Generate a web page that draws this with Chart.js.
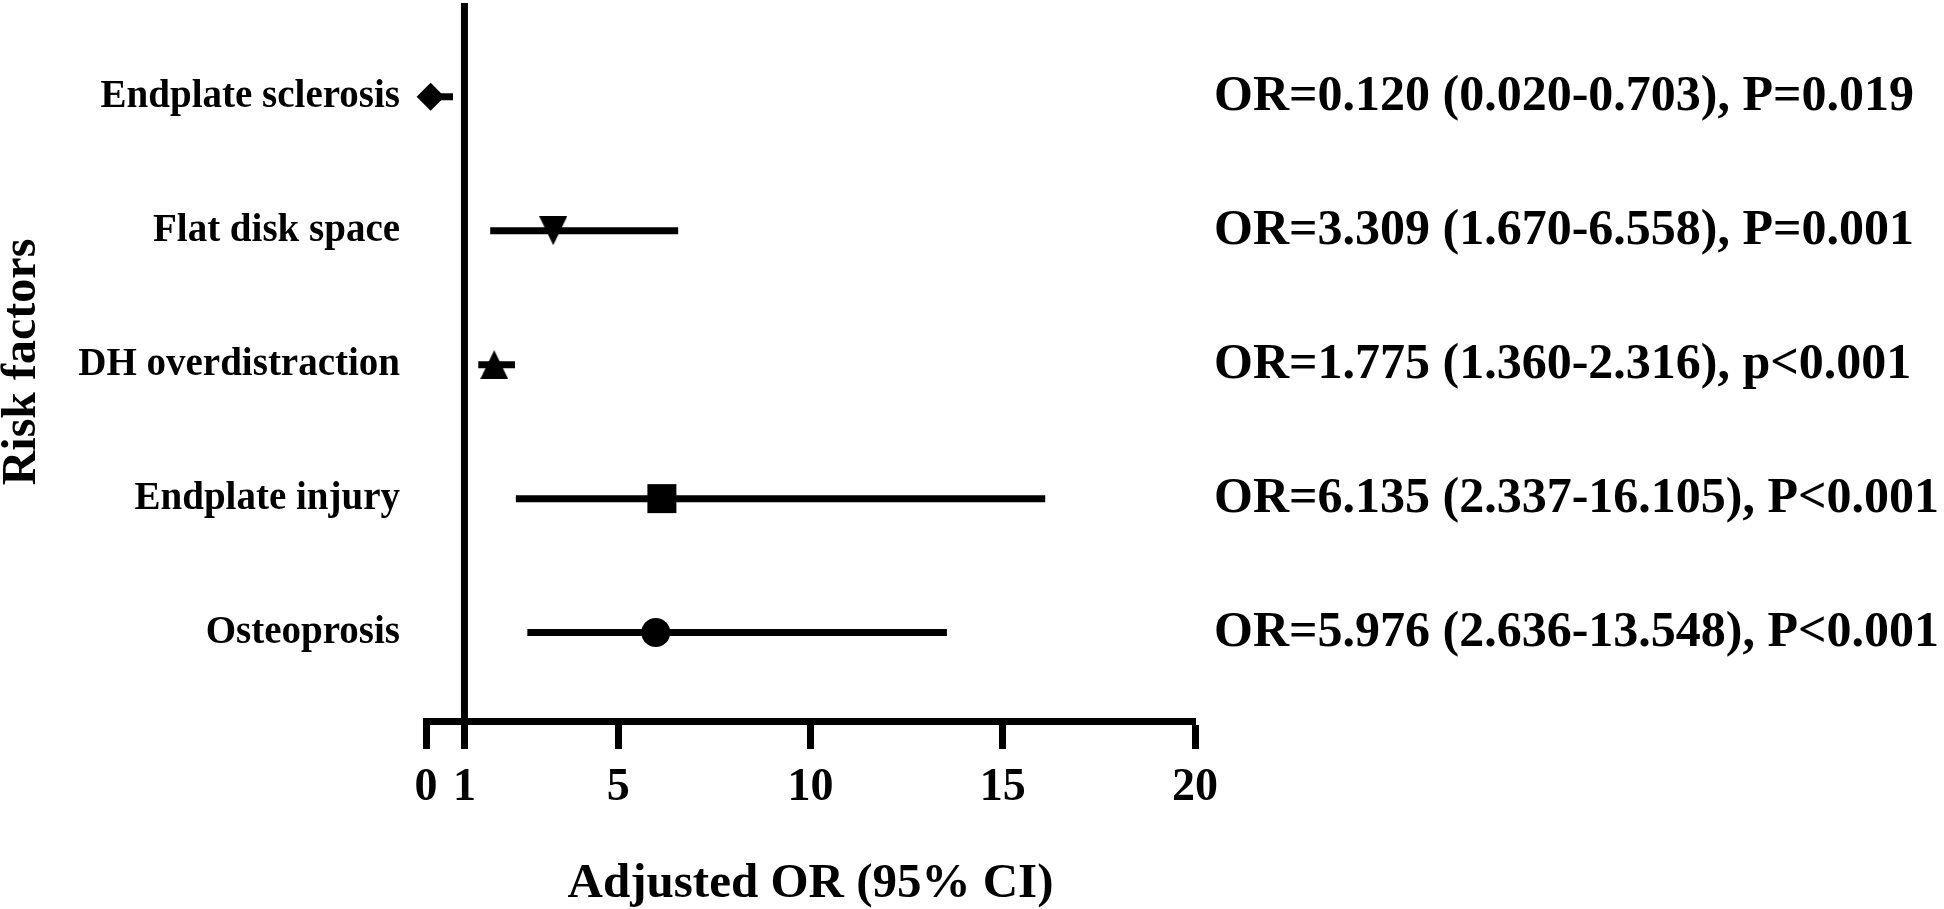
<!DOCTYPE html>
<html>
<head>
<meta charset="utf-8">
<script src="https://cdn.jsdelivr.net/npm/chart.js@4/dist/chart.umd.min.js"></script>
<style>
  html, body { margin: 0; padding: 0; background: #fff; }
  #forest { display: block; }
</style>
</head>
<body>
<canvas id="forest" width="1944" height="909"></canvas>
<script>
// risk factors, top to bottom
const factors = ["Endplate sclerosis", "Flat disk space", "DH overdistraction", "Endplate injury", "Osteoprosis"];
const orValues = [0.120, 3.309, 1.775, 6.135, 5.976];
const ciLow = [0.020, 1.670, 1.360, 2.337, 2.636];
const ciHigh = [0.703, 6.558, 2.316, 16.105, 13.548];
const pLabels = ["P=0.019", "P=0.001", "p<0.001", "P<0.001", "P<0.001"];
const xTicks = [0, 1, 5, 10, 15, 20];

const serif = "'Liberation Serif', 'Times New Roman', serif";
const rowMin = 0.3, rowMax = 5.66;

// the two triangles are drawn as little canvases so they sit centred on the bar
function makeTriangle(up) {
	const cv = document.createElement("canvas");
	cv.width = 28;
	cv.height = 29;
	const g = cv.getContext("2d");
	g.fillStyle = "#000";
	g.beginPath();
	if (up) {
		g.moveTo(14, 0); g.lineTo(28, 29); g.lineTo(0, 29);
	} else {
		g.moveTo(0, 0); g.lineTo(28, 0); g.lineTo(14, 29);
	}
	g.closePath();
	g.fill();
	return cv;
}
const markerStyles = ["rectRot", makeTriangle(false), makeTriangle(true), "rect", "circle"];
const markerSizes = [14, 14, 14, 20.5, 14.5];

const annotations = factors.map((f, i) =>
	"OR=" + orValues[i].toFixed(3) + " (" + ciLow[i].toFixed(3) + "-" + ciHigh[i].toFixed(3) + "), " + pLabels[i]);

const datasets = [];
datasets.push({
	label: "OR",
	data: orValues.map((v, i) => ({ x: v, y: i + 1 })),
	showLine: false,
	pointStyle: markerStyles,
	pointRadius: markerSizes,
	pointBackgroundColor: "#000",
	pointBorderWidth: 0,
	clip: false,
	order: 0
});
for (let i = 0; i < factors.length; i++) {
	datasets.push({
		label: factors[i] + " CI",
		data: [{ x: ciLow[i], y: i + 1 }, { x: ciHigh[i], y: i + 1 }],
		showLine: true,
		borderColor: "#000",
		borderWidth: 7,
		pointRadius: 0,
		order: 1
	});
}
// reference line at OR = 1
datasets.push({
	label: "OR=1",
	data: [{ x: 1, y: rowMin }, { x: 1, y: rowMax }],
	showLine: true,
	borderColor: "#000",
	borderWidth: 7,
	pointRadius: 0,
	clip: false,
	order: 2
});

function rowTicks(scale) {
	scale.ticks = factors.map((f, i) => ({ value: i + 1 }));
}
// no extra room for half labels, the layout is fixed by hand
function noPad(scale) {
	scale.paddingTop = 0;
	scale.paddingBottom = 0;
	scale.paddingLeft = 0;
	scale.paddingRight = 0;
}

new Chart(document.getElementById("forest"), {
	type: "scatter",
	data: { datasets: datasets },
	options: {
		responsive: false,
		animation: false,
		layout: { autoPadding: false, padding: { top: 3, left: 0, right: 0, bottom: 0 } },
		plugins: { legend: { display: false }, tooltip: { enabled: false } },
		scales: {
			x: {
				type: "linear",
				min: 0,
				max: 20,
				afterBuildTicks: (scale) => { scale.ticks = xTicks.map(v => ({ value: v })); },
				afterFit: (scale) => { scale.height = 188; noPad(scale); },
				border: { display: true, color: "#000", width: 7 },
				grid: { drawOnChartArea: false, drawTicks: true, tickLength: 28, tickWidth: 7, tickColor: "#000", color: "#000" },
				ticks: {
					color: "#000",
					padding: 12,
					autoSkip: false,
					maxRotation: 0,
					font: { family: serif, size: 46, weight: "bold" }
				},
				title: {
					display: true,
					text: "Adjusted OR (95% CI)",
					color: "#000",
					padding: 0,
					font: { family: serif, size: 49, weight: "bold", lineHeight: 1 }
				}
			},
			y: {
				type: "linear",
				position: "left",
				reverse: true,
				min: rowMin,
				max: rowMax,
				afterBuildTicks: rowTicks,
				afterFit: (scale) => { scale.width = 426; noPad(scale); },
				border: { display: false },
				grid: { display: false },
				ticks: {
					color: "#000",
					padding: 18,
					autoSkip: false,
					callback: (v) => factors[v - 1],
					font: { family: serif, size: 39, weight: "bold" }
				},
				title: {
					display: true,
					text: "Risk factors",
					color: "#000",
					padding: 0,
					font: { family: serif, size: 48, weight: "bold", lineHeight: 0.95 }
				}
			},
			y2: {
				type: "linear",
				position: "right",
				reverse: true,
				min: rowMin,
				max: rowMax,
				afterBuildTicks: rowTicks,
				afterFit: (scale) => { scale.width = 749; noPad(scale); },
				border: { display: false },
				grid: { display: false },
				ticks: {
					color: "#000",
					padding: 11,
					autoSkip: false,
					callback: (v) => annotations[v - 1],
					font: { family: serif, size: 50, weight: "bold" }
				}
			}
		}
	}
});
</script>
</body>
</html>
